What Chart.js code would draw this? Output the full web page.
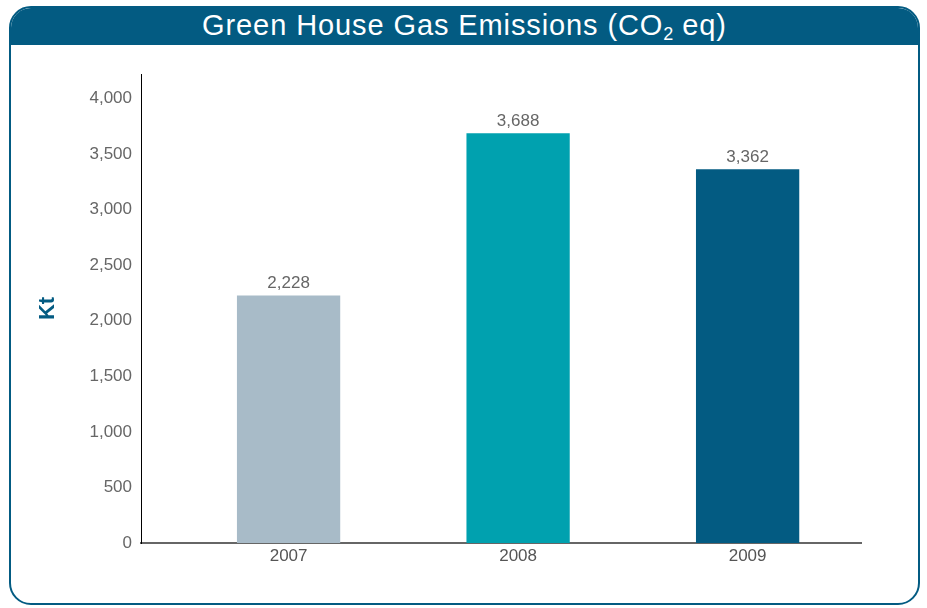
<!DOCTYPE html>
<html>
<head>
<meta charset="utf-8">
<title>Green House Gas Emissions</title>
<script src="https://cdn.jsdelivr.net/npm/chart.js@4/dist/chart.umd.min.js"></script>
<style>
  html, body { margin: 0; padding: 0; background: #fff; }
  body { width: 927px; height: 608px; position: relative; overflow: hidden; font-family: "Liberation Sans", Arial, sans-serif; }
  .frame {
    position: absolute; left: 9px; top: 6px; width: 911px; height: 599px;
    box-sizing: border-box; border: 2px solid #035b82; border-radius: 22px; overflow: hidden;
  }
  .header {
    height: 34px; background: #035b82; color: #fff; text-align: center;
    font-size: 29px; line-height: 29px; letter-spacing: 0.9px; padding-top: 3px;
  }
  .header sub { font-size: 18px; vertical-align: -5px; line-height: 0; letter-spacing: 0; }
  #chart { position: absolute; left: 0; top: 0; }
</style>
</head>
<body>
<div class="frame"><div class="header">Green House Gas Emissions (CO<sub>2</sub> eq)</div></div>
<canvas id="chart" width="927" height="608"></canvas>
<script>
const years = ['2007', '2008', '2009'];
const emissions = [2228, 3688, 3362];
const barColors = ['#a8bbc8', '#00a1af', '#035b82'];
const yTicks = [0, 500, 1000, 1500, 2000, 2500, 3000, 3500, 4000];

const fmt = v => v.toLocaleString('en-US');
const FONT = '"Liberation Sans", Arial, sans-serif';

// value labels above each bar
const valueLabels = {
  id: 'valueLabels',
  afterDatasetsDraw(chart) {
    const ctx = chart.ctx;
    ctx.save();
    ctx.font = '17px ' + FONT;
    ctx.fillStyle = '#666';
    ctx.textAlign = 'center';
    ctx.textBaseline = 'alphabetic';
    chart.getDatasetMeta(0).data.forEach((bar, i) => {
      ctx.fillText(fmt(emissions[i]), bar.x, bar.y - 7);
    });
    ctx.restore();
  }
};

new Chart(document.getElementById('chart'), {
  type: 'bar',
  data: {
    datasets: [{
      data: emissions.map((v, i) => ({ x: i, y: v })),
      backgroundColor: barColors,
      borderWidth: 0,
      categoryPercentage: 1,
      barPercentage: 0.45
    }]
  },
  options: {
    responsive: false,
    animation: false,
    devicePixelRatio: 1,
    layout: { padding: { top: 74, right: 66, left: 0, bottom: 0 } },
    plugins: { legend: { display: false }, tooltip: { enabled: false } },
    scales: {
      x: {
        type: 'linear',
        offset: false,
        min: -0.643,
        max: 2.494,
        afterBuildTicks: s => { s.ticks = years.map((_, i) => ({ value: i })); },
        afterFit: s => { s.height = 65; },
        grid: { display: false, drawTicks: false },
        border: { color: '#666', width: 2 },
        ticks: {
          padding: 3,
          color: '#555',
          font: { family: FONT, size: 17 },
          callback: v => years[v]
        }
      },
      y: {
        min: 0,
        max: 4220,
        afterBuildTicks: s => { s.ticks = yTicks.map(v => ({ value: v })); },
        afterFit: s => { s.width = 141; },
        grid: { display: false, drawTicks: false },
        border: { color: '#000', width: 1 },
        ticks: {
          padding: 9,
          color: '#666',
          font: { family: FONT, size: 17 },
          callback: v => fmt(v)
        },
        title: {
          display: true,
          text: 'Kt',
          color: '#035b82',
          padding: { top: 35, bottom: 0 },
          font: { family: FONT, size: 22, weight: 'bold' }
        }
      }
    }
  },
  plugins: [valueLabels]
});
</script>
</body>
</html>
